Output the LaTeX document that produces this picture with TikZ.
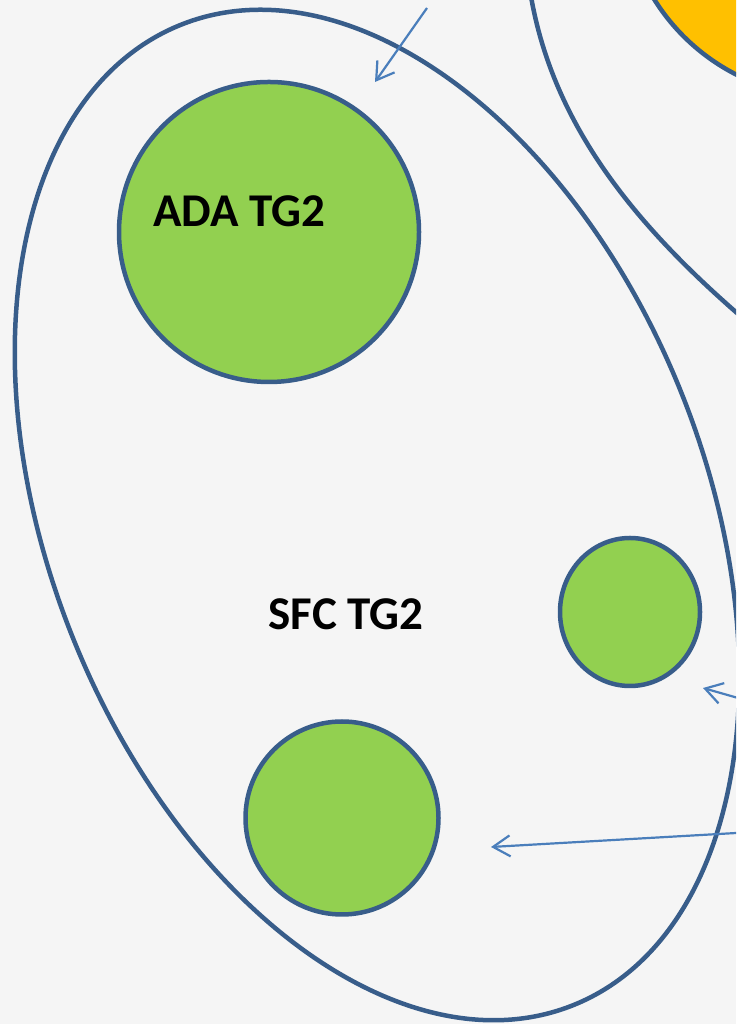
\documentclass[tikz,border=0pt]{standalone}
\usepackage{fontspec}
\setmainfont{Carlito}
\usetikzlibrary{arrows.meta,shapes.geometric}
\definecolor{bgc}{HTML}{F5F5F5}
\definecolor{edge}{HTML}{385D8A}
\definecolor{greenf}{HTML}{92D050}
\definecolor{orangef}{HTML}{FFC000}
\definecolor{arrowc}{HTML}{4A7EBB}
\tikzset{
  outline/.style={draw=edge, line width=4.5pt},
  gcircle/.style={outline, fill=greenf, circle, inner sep=0pt},
  pointer/.style={draw=arrowc, line width=2.2pt, -{Straight Barb[length=17pt,width=21pt]}},
  lbl/.style={font=\fontsize{47}{56}\selectfont\bfseries, text=black, inner sep=0pt, anchor=base}
}
\begin{document}
\begin{tikzpicture}[x=1pt,y=1pt]
\useasboundingbox (0,0) rectangle (736,1024);
\fill[bgc] (0,0) rectangle (736,1024);
\clip (0,0) rectangle (736,1024);
% orange circle top right
\draw[outline, fill=orangef] (830,1134) circle [radius=207pt];
% top-right ellipse part
\draw[outline] (529,1040) .. controls (550,894) and (645,786) .. (770,683);
% big ellipse
\draw[outline, rotate around={-68.2:(377,509)}] (377,509) ellipse [x radius=528pt, y radius=328pt];
% green circles
\node[gcircle, minimum size=300pt] (ada) at (269,792) {};
\node[outline, fill=greenf, ellipse, inner sep=0pt, minimum width=140pt, minimum height=148pt] (small) at (630,412) {};
\node[gcircle, minimum size=193pt] (bottom) at (342,206) {};
% labels
\node[lbl] (adal) at (239,797) {ADA TG2};
\node[lbl] (sfcl) at (346,394) {SFC TG2};
% arrows
\coordinate (a1s) at (427,1016);
\coordinate (a1e) at (375,942);
\coordinate (a2s) at (745,324);
\coordinate (a2e) at (703,336);
\coordinate (a3s) at (745,191.5);
\coordinate (a3e) at (491,177);
\draw[pointer] (a1s) -- (a1e);
\draw[pointer] (a2s) -- (a2e);
\draw[pointer] (a3s) -- (a3e);
\end{tikzpicture}
\end{document}
